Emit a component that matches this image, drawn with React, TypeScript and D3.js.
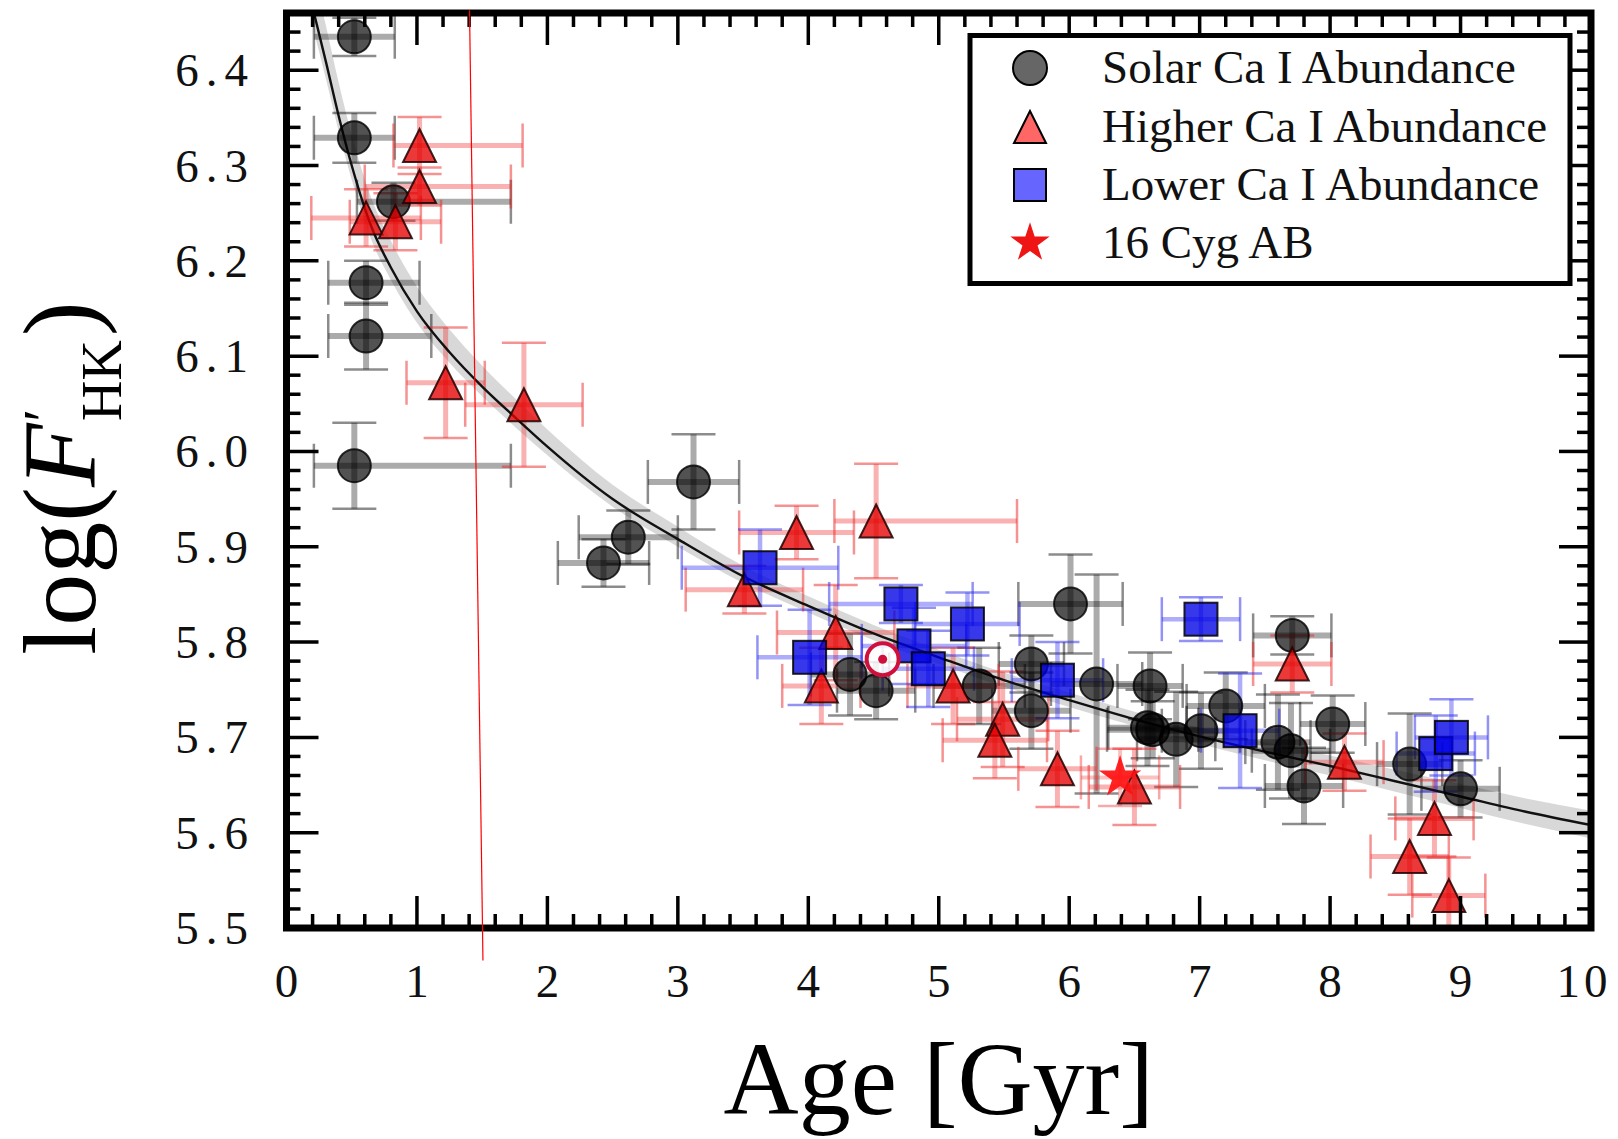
import React from 'react';
import * as d3 from 'd3';

const W = 1618;
const H = 1139;

// Axis ticks
const xMajorTicks = [0, 1, 2, 3, 4, 5, 6, 7, 8, 9, 10];
const xTickLabels = ['0', '1', '2', '3', '4', '5', '6', '7', '8', '9', '10'];
const yMajorTicks = [5.5, 5.6, 5.7, 5.8, 5.9, 6.0, 6.1, 6.2, 6.3, 6.4];
const yTickLabels = ['5.5', '5.6', '5.7', '5.8', '5.9', '6.0', '6.1', '6.2', '6.3', '6.4'];

// Activity–age fit and its uncertainty band
const fitAge = [0.2, 0.3, 0.4, 0.5, 0.65, 0.8, 1.0, 1.25, 1.5, 1.75, 2.0, 2.5, 3.0, 3.5, 4.0, 4.5, 5.0, 5.5, 6.0, 6.5, 7.0, 7.5, 8.0, 8.5, 9.0, 9.5, 10.0];
const fitLogF = [6.466, 6.41, 6.352, 6.30, 6.236, 6.193, 6.147, 6.104, 6.068, 6.036, 6.005, 5.95, 5.908, 5.869, 5.838, 5.809, 5.784, 5.760, 5.739, 5.719, 5.701, 5.685, 5.670, 5.654, 5.638, 5.622, 5.608];
const bandHigh = [6.506, 6.448, 6.387, 6.332, 6.266, 6.221, 6.173, 6.128, 6.090, 6.056, 6.023, 5.965, 5.921, 5.880, 5.848, 5.818, 5.792, 5.768, 5.747, 5.727, 5.710, 5.695, 5.681, 5.666, 5.651, 5.636, 5.623];
const bandLow = [6.446, 6.392, 6.336, 6.285, 6.222, 6.180, 6.135, 6.093, 6.058, 6.026, 5.996, 5.942, 5.900, 5.862, 5.831, 5.802, 5.777, 5.753, 5.732, 5.712, 5.693, 5.676, 5.660, 5.643, 5.626, 5.609, 5.594];

// [age, logF, ageErrLow, ageErrHigh, logFErr]
const solarStars = [
  [0.52, 6.435, 0.31, 0.31, 0.02],
  [0.52, 6.329, 0.31, 0.31, 0.026],
  [0.82, 6.262, 0.28, 0.9, 0.02],
  [0.61, 6.177, 0.29, 0.41, 0.023],
  [0.61, 6.121, 0.29, 0.5, 0.035],
  [0.52, 5.985, 0.31, 1.2, 0.045],
  [2.43, 5.883, 0.35, 0.35, 0.025],
  [2.62, 5.91, 0.38, 0.38, 0.028],
  [3.12, 5.968, 0.35, 0.35, 0.05],
  [4.32, 5.766, 0.3, 0.3, 0.043],
  [4.52, 5.749, 0.3, 0.3, 0.03],
  [5.31, 5.754, 0.35, 0.35, 0.04],
  [5.71, 5.777, 0.25, 0.25, 0.03],
  [5.71, 5.728, 0.3, 0.3, 0.04],
  [6.01, 5.84, 0.4, 0.4, 0.052],
  [6.21, 5.756, 0.35, 0.35, 0.115],
  [6.62, 5.754, 0.25, 0.25, 0.035],
  [6.6, 5.71, 0.3, 0.3, 0.04],
  [6.64, 5.708, 0.35, 0.35, 0.03],
  [6.82, 5.698, 0.3, 0.3, 0.05],
  [7.01, 5.707, 0.3, 0.3, 0.04],
  [7.2, 5.733, 0.3, 0.3, 0.035],
  [7.6, 5.695, 0.25, 0.25, 0.05],
  [7.71, 5.807, 0.3, 0.3, 0.02],
  [7.7, 5.686, 0.3, 0.3, 0.05],
  [7.8, 5.649, 0.3, 0.3, 0.04],
  [8.02, 5.714, 0.25, 0.25, 0.03],
  [8.61, 5.672, 0.25, 0.25, 0.053],
  [9.0, 5.646, 0.3, 0.3, 0.03],
];

const higherCaStars = [
  [1.02, 6.321, 0.2, 0.79, 0.03],
  [1.02, 6.278, 0.42, 0.7, 0.02],
  [0.61, 6.245, 0.42, 0.42, 0.03],
  [0.835, 6.241, 0.35, 0.35, 0.03],
  [1.22, 6.072, 0.3, 0.3, 0.058],
  [1.82, 6.049, 0.45, 0.45, 0.065],
  [3.51, 5.855, 0.45, 0.45, 0.025],
  [3.91, 5.915, 0.44, 0.44, 0.028],
  [4.52, 5.927, 0.32, 1.08, 0.06],
  [4.21, 5.81, 0.45, 0.45, 0.05],
  [4.1, 5.754, 0.3, 0.3, 0.04],
  [5.11, 5.754, 0.35, 0.35, 0.04],
  [5.49, 5.719, 0.35, 0.35, 0.05],
  [5.43, 5.697, 0.4, 0.4, 0.04],
  [5.91, 5.667, 0.3, 0.3, 0.04],
  [6.5, 5.648, 0.35, 0.35, 0.04],
  [7.71, 5.777, 0.3, 0.3, 0.03],
  [8.11, 5.674, 0.3, 0.3, 0.03],
  [8.8, 5.615, 0.3, 0.3, 0.04],
  [8.61, 5.575, 0.3, 0.3, 0.04],
  [8.91, 5.534, 0.28, 0.28, 0.04],
];

const lowerCaStars = [
  [3.63, 5.878, 0.6, 0.6, 0.04],
  [4.01, 5.784, 0.4, 0.4, 0.05],
  [4.71, 5.84, 0.55, 0.55, 0.02],
  [4.81, 5.796, 0.4, 0.4, 0.04],
  [4.92, 5.772, 0.35, 0.35, 0.04],
  [5.22, 5.819, 0.4, 0.4, 0.033],
  [5.91, 5.76, 0.35, 0.35, 0.04],
  [7.01, 5.824, 0.3, 0.3, 0.023],
  [7.31, 5.707, 0.3, 0.3, 0.06],
  [8.81, 5.683, 0.3, 0.3, 0.04],
  [8.93, 5.7, 0.28, 0.28, 0.04],
];

const cygAB = [[6.39, 5.658, 0.3, 0.3, 0.03]];
const sun = [4.57, 5.782];

// thin red guide stroke across the left part of the panel
const guideLine = [[1.403, 6.463], [1.506, 5.466]];

const legendLabels = ['Solar Ca I Abundance', 'Higher Ca I Abundance', 'Lower Ca I Abundance', '16 Cyg AB'];

const FONT = '"Liberation Serif", "DejaVu Serif", serif';

const x = d3.scaleLinear().domain([0, 10]).range([286.5, 1591]);
const y = d3.scaleLinear().domain([5.5, 6.46]).range([928, 13]);

const MAJOR = 32;
const MINOR = 14;

function ErrorBars({ data, color, width, capColor }: { data: number[][]; color: string; width: number; capColor: string }) {
  const cap = 22;
  return (
    <g>
      {data.map((d, i) => {
        const [a, v, lo, hi, e] = d;
        const cx = x(a);
        const cy = y(v);
        const x0 = x(a - lo);
        const x1 = x(a + hi);
        const y0 = y(v - e);
        const y1 = y(v + e);
        return (
          <g key={i}>
            <line x1={x0} x2={x1} y1={cy} y2={cy} stroke={color} strokeWidth={width} />
            <line x1={cx} x2={cx} y1={y0} y2={y1} stroke={color} strokeWidth={width} />
            <line x1={x0} x2={x0} y1={cy - cap} y2={cy + cap} stroke={capColor} strokeWidth={2.5} />
            <line x1={x1} x2={x1} y1={cy - cap} y2={cy + cap} stroke={capColor} strokeWidth={2.5} />
            <line x1={cx - cap} x2={cx + cap} y1={y0} y2={y0} stroke={capColor} strokeWidth={2.5} />
            <line x1={cx - cap} x2={cx + cap} y1={y1} y2={y1} stroke={capColor} strokeWidth={2.5} />
          </g>
        );
      })}
    </g>
  );
}

const triPath = (s: number) => `M0,${-s}L${-s},${s}L${s},${s}Z`;
const starPath = d3.symbol(d3.symbolStar, 560)() as string;
const legendStarPath = d3.symbol(d3.symbolStar, 480)() as string;

export default function App() {
  const xMinor = d3.range(0, 10.001, 0.2).filter((t) => Math.abs(t - Math.round(t)) > 1e-6);
  const yMinor = d3.range(5.5, 6.46, 0.02).filter((v) => Math.abs(v * 10 - Math.round(v * 10)) > 1e-6);

  const fitLine = d3
    .line<number>()
    .x((_, i) => x(fitAge[i]))
    .y((d) => y(d))
    .curve(d3.curveMonotoneX)(fitLogF) as string;

  const band = d3
    .area<number>()
    .x((_, i) => x(fitAge[i]))
    .y0((_, i) => y(bandLow[i]))
    .y1((d) => y(d))
    .curve(d3.curveMonotoneX)(bandHigh) as string;

  const [fl, fr] = x.range();
  const [fb, ft] = y.range();

  const legendX = 970;
  const legendY = 35.5;
  const legendW = 600;
  const legendH = 248;
  const rowY = [68, 127, 185, 243];
  const markX = 1030;

  return (
    <svg width={W} height={H} style={{ position: 'absolute', left: 0, top: 0, background: '#fff' }}>
      <defs>
        <clipPath id="plotArea">
          <rect x={fl} y={ft} width={fr - fl} height={fb - ft} />
        </clipPath>
      </defs>
      <rect x={0} y={0} width={W} height={H} fill="#fff" />

      <g clipPath="url(#plotArea)">
        <path d={band} fill="#b8b8b8" fillOpacity={0.55} />
        <ErrorBars data={solarStars} color="rgba(0,0,0,0.33)" width={6} capColor="rgba(0,0,0,0.45)" />
        <ErrorBars data={higherCaStars} color="rgba(240,50,50,0.38)" width={5} capColor="rgba(235,40,40,0.5)" />
        <ErrorBars data={lowerCaStars} color="rgba(40,40,240,0.38)" width={4.5} capColor="rgba(40,40,235,0.5)" />
        <ErrorBars data={cygAB} color="rgba(240,50,50,0.3)" width={4} capColor="rgba(235,40,40,0.4)" />
        <path d={fitLine} fill="none" stroke="#111" strokeWidth={2.4} />

        {solarStars.map((d, i) => (
          <circle key={i} cx={x(d[0])} cy={y(d[1])} r={16.5} fill="#000" fillOpacity={0.68} stroke="#000" strokeOpacity={0.8} strokeWidth={2} />
        ))}
        {higherCaStars.map((d, i) => (
          <path key={i} d={triPath(16.5)} transform={`translate(${x(d[0])},${y(d[1])})`} fill="#e60000" fillOpacity={0.78} stroke="#200" strokeOpacity={0.85} strokeWidth={2} />
        ))}
        {lowerCaStars.map((d, i) => (
          <rect key={i} x={x(d[0]) - 16.5} y={y(d[1]) - 16.5} width={33} height={33} fill="#0000e6" fillOpacity={0.78} stroke="#000" strokeOpacity={0.85} strokeWidth={2} />
        ))}

        <circle cx={x(sun[0])} cy={y(sun[1])} r={16} fill="#fff" fillOpacity={0.85} stroke="#d0103c" strokeWidth={4} />
        <circle cx={x(sun[0])} cy={y(sun[1])} r={4.5} fill="#d0103c" />

        {cygAB.map((d, i) => (
          <path key={i} d={starPath} transform={`translate(${x(d[0])},${y(d[1])})`} fill="#ff1010" fillOpacity={0.92} />
        ))}
      </g>

      {/* ticks on all four sides, pointing inward */}
      <g stroke="#000" strokeWidth={3.5}>
        {xMajorTicks.map((t) => (
          <g key={`xm${t}`}>
            <line x1={x(t)} x2={x(t)} y1={fb} y2={fb - MAJOR} />
            <line x1={x(t)} x2={x(t)} y1={ft} y2={ft + MAJOR} />
          </g>
        ))}
        {xMinor.map((t, i) => (
          <g key={`xn${i}`}>
            <line x1={x(t)} x2={x(t)} y1={fb} y2={fb - MINOR} />
            <line x1={x(t)} x2={x(t)} y1={ft} y2={ft + MINOR} />
          </g>
        ))}
        {yMajorTicks.map((v) => (
          <g key={`ym${v}`}>
            <line x1={fl} x2={fl + MAJOR} y1={y(v)} y2={y(v)} />
            <line x1={fr} x2={fr - MAJOR} y1={y(v)} y2={y(v)} />
          </g>
        ))}
        {yMinor.map((v, i) => (
          <g key={`yn${i}`}>
            <line x1={fl} x2={fl + MINOR} y1={y(v)} y2={y(v)} />
            <line x1={fr} x2={fr - MINOR} y1={y(v)} y2={y(v)} />
          </g>
        ))}
      </g>

      <rect x={fl} y={ft} width={fr - fl} height={fb - ft} fill="none" stroke="#000" strokeWidth={7} />

      {/* legend */}
      <g>
        <rect x={legendX} y={legendY} width={legendW} height={legendH} fill="#fff" stroke="#000" strokeWidth={5} />
        <circle cx={markX} cy={rowY[0]} r={17} fill="#000" fillOpacity={0.6} stroke="#000" strokeWidth={2} />
        <path d={triPath(16)} transform={`translate(${markX},${rowY[1]})`} fill="#ff0000" fillOpacity={0.6} stroke="#000" strokeWidth={2} />
        <rect x={markX - 16} y={rowY[2] - 16} width={32} height={32} fill="#0000ff" fillOpacity={0.6} stroke="#000" strokeWidth={2} />
        <path d={legendStarPath} transform={`translate(${markX},${rowY[3]})`} fill="#f01515" />
        {legendLabels.map((s, i) => (
          <text key={s} x={1102} y={rowY[i] + 15} fontFamily={FONT} fontSize={47} fill="#111">
            {s}
          </text>
        ))}
      </g>

      {/* tick labels */}
      {xMajorTicks.map((t, i) => (
        <text
          key={`xl${t}`}
          x={Math.min(x(t) + 2, 1584)}
          y={997}
          textAnchor="middle"
          fontFamily={FONT}
          fontSize={47}
          letterSpacing={4}
          fill="#111"
        >
          {xTickLabels[i]}
        </text>
      ))}
      {yMajorTicks.map((v, i) => (
        <text key={`yl${v}`} x={255} y={y(v) + 16} textAnchor="end" fontFamily={FONT} fontSize={47} letterSpacing={7} fill="#111">
          {yTickLabels[i]}
        </text>
      ))}

      {/* axis titles */}
      <text x={(fl + fr) / 2} y={1114} textAnchor="middle" fontFamily={FONT} fontSize={104} fill="#000">
        Age [Gyr]
      </text>
      <text transform="translate(95,478) rotate(-90)" textAnchor="middle" fontFamily={FONT} fontSize={104} fill="#000">
        log(<tspan fontStyle="italic">F</tspan>
        <tspan fontSize={58} dy={-32} dx={2}>′</tspan>
        <tspan fontSize={56} dy={58} dx={-12}>HK</tspan>
        <tspan dy={-26} dx={4}>)</tspan>
      </text>

      <line
        x1={x(guideLine[0][0])}
        y1={y(guideLine[0][1])}
        x2={x(guideLine[1][0])}
        y2={y(guideLine[1][1])}
        stroke="#ff0000"
        strokeWidth={1.2}
      />
    </svg>
  );
}
